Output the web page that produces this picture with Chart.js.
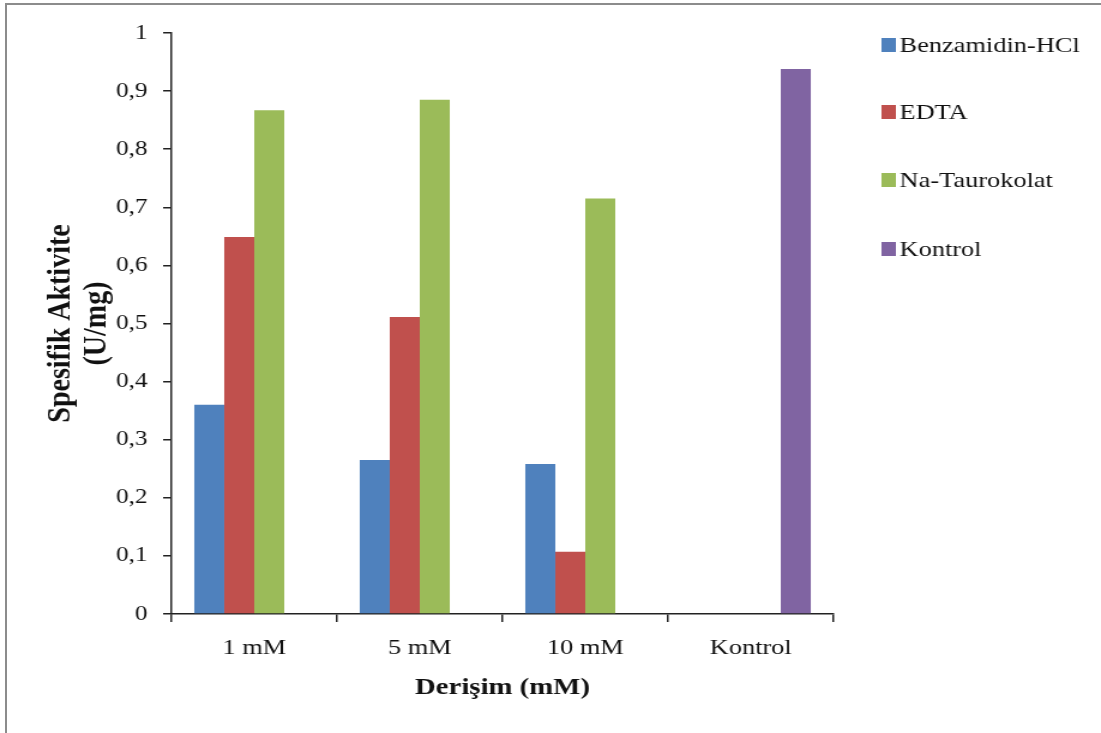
<!DOCTYPE html>
<html>
<head>
<meta charset="utf-8">
<script src="https://cdn.jsdelivr.net/npm/chart.js@4"></script>
<style>
  body { margin: 0; overflow: hidden; background: #fff; }
  #wrap { position: relative; width: 1101px; height: 733px; overflow: hidden; }
  #frame { position: absolute; left: 5px; top: 3px; width: 1200px; height: 800px; border: 2px solid #8c8c8c; }
  /* the original figure is a horizontally stretched picture, so draw narrow and stretch */
  #stretch { position: absolute; left: 0; top: 0; width: 918px; height: 733px; transform: scaleX(1.1993); transform-origin: 0 0; }
</style>
</head>
<body>
<div id="wrap">
  <div id="frame"></div>
  <div id="stretch">
    <canvas id="chart" width="918" height="733"></canvas>
  </div>
</div>
<script>
// categories and series
const categories = ['1 mM', '5 mM', '10 mM', 'Kontrol'];
const benzamidin = [0.360, 0.265, 0.258, null];
const edta = [0.649, 0.511, 0.107, null];
const taurokolat = [0.867, 0.885, 0.715, null];
const kontrol = [null, null, null, 0.938];
const yTickLabels = ['0', '0,1', '0,2', '0,3', '0,4', '0,5', '0,6', '0,7', '0,8', '0,9', '1'];

const serif = 'Liberation Serif';

// legend drawn at the fixed spots used in the original figure
const sideLegend = {
    id: 'sideLegend',
    afterDraw(chart) {
        const ctx = chart.ctx;
        const rows = [45, 112, 180, 249];
        ctx.save();
        ctx.font = `22px "${serif}"`;
        ctx.textBaseline = 'middle';
        chart.data.datasets.forEach((ds, i) => {
            ctx.fillStyle = ds.backgroundColor;
            ctx.fillRect(735, rows[i] - 7, 12, 14);
            ctx.fillStyle = '#111';
            ctx.fillText(ds.label, 750, rows[i] + 1);
        });
        ctx.restore();
    }
};

new Chart(document.getElementById('chart'), {
    type: 'bar',
    data: {
        labels: categories,
        datasets: [
            { label: 'Benzamidin-HCl', data: benzamidin, backgroundColor: '#4F81BD' },
            { label: 'EDTA', data: edta, backgroundColor: '#C0504D' },
            { label: 'Na-Taurokolat', data: taurokolat, backgroundColor: '#9BBB59' },
            { label: 'Kontrol', data: kontrol, backgroundColor: '#8064A2' }
        ]
    },
    options: {
        responsive: false,
        animation: false,
        categoryPercentage: 0.725,
        barPercentage: 1,
        layout: { padding: { top: 33, right: 223, bottom: 0, left: 0 } },
        plugins: {
            legend: { display: false },
            tooltip: { enabled: false }
        },
        scales: {
            x: {
                afterFit(scale) { scale.height = 119; },
                grid: { drawOnChartArea: false, tickLength: 8, color: '#222', lineWidth: 1.5 },
                border: { color: '#222', width: 1.5 },
                ticks: { color: '#111', padding: 13, font: { family: serif, size: 22 } },
                title: {
                    display: true,
                    text: 'Derişim (mM)',
                    color: '#111',
                    padding: { bottom: 31 },
                    font: { family: serif, size: 24, weight: 'bold' }
                }
            },
            y: {
                min: 0,
                max: 1,
                afterFit(scale) { scale.width = 143; },
                grid: { drawOnChartArea: false, tickLength: 7, color: '#222', lineWidth: 1.5 },
                border: { color: '#222', width: 1.5 },
                ticks: {
                    stepSize: 0.1,
                    color: '#111',
                    padding: 13,
                    font: { family: serif, size: 21 },
                    callback: (value, index) => yTickLabels[index]
                },
                title: {
                    display: true,
                    text: ['Spesifik Aktivite', '(U/mg)'],
                    color: '#111',
                    padding: { top: 36 },
                    font: { family: serif, size: 28, weight: 'bold', lineHeight: 1.07 }
                }
            }
        }
    },
    plugins: [sideLegend]
});
</script>
</body>
</html>
